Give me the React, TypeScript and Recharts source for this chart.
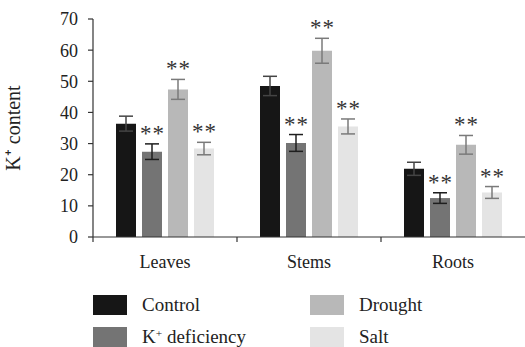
import React from 'react';
import { BarChart, Bar, XAxis, YAxis, ErrorBar, LabelList } from 'recharts';

const tissues = ['Leaves', 'Stems', 'Roots'];
const control = [36.4, 48.5, 21.9];
const controlErr = [2.4, 3.1, 2.1];
const deficiency = [27.4, 30.2, 12.5];
const deficiencyErr = [2.5, 2.7, 1.7];
const drought = [47.4, 59.8, 29.6];
const droughtErr = [3.2, 4.0, 3.0];
const salt = [28.4, 35.5, 14.3];
const saltErr = [2.0, 2.4, 1.9];
const yTicks = [0, 10, 20, 30, 40, 50, 60, 70];

const W = 525;
const H = 280;
const TOP = 19;
const AXIS_LEFT = 93;
const XAXIS_H = 43;
const Y_MAX = 70;
const PLOT_H = H - TOP - XAXIS_H;
const PLOT_W = W - AXIS_LEFT;
const FONT = '"Liberation Serif", "Times New Roman", serif';

const data = tissues.map((t, i) => ({
  tissue: t,
  control: control[i],
  controlErr: controlErr[i],
  deficiency: deficiency[i],
  deficiencyErr: deficiencyErr[i],
  drought: drought[i],
  droughtErr: droughtErr[i],
  salt: salt[i],
  saltErr: saltErr[i],
}));

const series = [
  { key: 'control', fill: '#161616', err: '#444444', stars: false },
  { key: 'deficiency', fill: '#747474', err: '#1e1e1e', stars: true },
  { key: 'drought', fill: '#b8b8b8', err: '#7a7a7a', stars: true },
  { key: 'salt', fill: '#e4e4e4', err: '#7a7a7a', stars: true },
];

const legendItems = [
  { name: 'Control', fill: '#161616' },
  { name: 'Drought', fill: '#b8b8b8' },
  { name: <>K<sup style={{ fontSize: '0.6em', verticalAlign: '0.55em', lineHeight: 0 }}>+</sup> deficiency</>, fill: '#747474' },
  { name: 'Salt', fill: '#e4e4e4' },
];

// "**" above the error bar top
const starLabel = (errKey: string) => (props: any) => {
  const { x, y, width, index } = props;
  const row: any = data[index];
  const errTop = y - (row[errKey] * PLOT_H) / Y_MAX;
  return (
    <text
      x={x + width / 2 + 0.5}
      y={errTop - 3}
      textAnchor="middle"
      fontFamily={FONT}
      fontSize={23}
      letterSpacing={1}
      fill="#333"
    >
      **
    </text>
  );
};

const CategoryTick = (props: any) => {
  const { x, y, payload } = props;
  const half = PLOT_W / tissues.length / 2;
  return (
    <g>
      <line x1={x - half} x2={x - half} y1={y} y2={y + 5} stroke="#333" strokeWidth={1.2} />
      <text x={x} y={y + 31} textAnchor="middle" fontFamily={FONT} fontSize={18} fill="#222">
        {payload.value}
      </text>
    </g>
  );
};

export default function App() {
  return (
    <div style={{ position: 'absolute', left: 0, top: 0, width: W, height: 347, background: '#fff' }}>
      <BarChart
        width={W}
        height={H}
        data={data}
        margin={{ top: TOP, right: 0, bottom: 0, left: 0 }}
        barSize={20}
        barGap={6}
      >
        <XAxis
          dataKey="tissue"
          height={XAXIS_H}
          tickSize={0}
          tickMargin={0}
          tickLine={false}
          axisLine={{ stroke: '#333', strokeWidth: 1.2 }}
          tick={<CategoryTick />}
        />
        <YAxis
          width={AXIS_LEFT}
          domain={[0, Y_MAX]}
          ticks={yTicks}
          tickSize={5}
          tickMargin={10}
          axisLine={{ stroke: '#333', strokeWidth: 1.2 }}
          tickLine={{ stroke: '#333', strokeWidth: 1.2 }}
          tick={{ fontFamily: FONT, fontSize: 18, fill: '#222' }}
          label={{
            value: 'K⁺ content',
            angle: -90,
            position: 'insideLeft',
            dx: 8,
            style: { fontFamily: FONT, fontSize: 20, fill: '#222', textAnchor: 'middle' },
          }}
        />
        {series.map((s) => (
          <Bar key={s.key} dataKey={s.key} fill={s.fill} isAnimationActive={false}>
            <ErrorBar dataKey={s.key + 'Err'} width={7} stroke={s.err} strokeWidth={1.5} />
            {s.stars && <LabelList dataKey={s.key} content={starLabel(s.key + 'Err')} />}
          </Bar>
        ))}
      </BarChart>
      <div
        style={{
          position: 'absolute',
          left: 93,
          top: 295,
          display: 'grid',
          gridTemplateColumns: '217px 200px',
          rowGap: 12,
          fontFamily: FONT,
          fontSize: 19,
          color: '#222',
        }}
      >
        {legendItems.map((it, i) => (
          <div key={i} style={{ display: 'flex', alignItems: 'center', height: 20 }}>
            <span style={{ width: 34, height: 20, background: it.fill, display: 'inline-block', marginRight: 15 }} />
            <span style={{ lineHeight: '20px', whiteSpace: 'nowrap' }}>{it.name}</span>
          </div>
        ))}
      </div>
    </div>
  );
}
